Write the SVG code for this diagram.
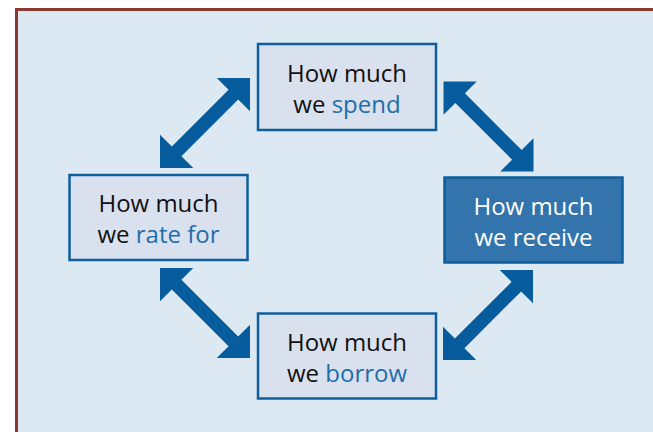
<svg xmlns="http://www.w3.org/2000/svg" width="653" height="432" viewBox="0 0 653 432">
<defs>
<style>
.box{fill:#d9e0ee;stroke:#0e5e9c;stroke-width:2.5}
.box.dark{fill:#3474ad}
.t{font-family:"Open Sans","Liberation Sans",sans-serif;font-size:24px;text-anchor:middle;fill:#111}
.t.w{fill:#fff}
.hl{fill:#1f6ea8}
.arr{fill:#065c9c}
</style>
<path id="dbl" d="M0,0 L23.5,-23.5 L23.5,-6.8 L103.8,-6.8 L103.8,-23.5 L127.3,0 L103.8,23.5 L103.8,6.8 L23.5,6.8 L23.5,23.5 Z"/>
</defs>
<rect x="0" y="0" width="653" height="432" fill="#ffffff"/>
<rect x="16.5" y="9.5" width="700" height="500" fill="#dce9f3" stroke="#8b3a32" stroke-width="3"/>
<g id="connectors" class="arr">
<use href="#dbl" transform="translate(160,168) rotate(-45)"/>
<use href="#dbl" transform="translate(443.5,81.5) rotate(45)"/>
<use href="#dbl" transform="translate(443,360) rotate(-45)"/>
<use href="#dbl" transform="translate(160,268) rotate(45)"/>
</g>
<g id="spend">
<rect class="box" x="258" y="44" width="178" height="86"/>
<text class="t" x="347" y="82">How much</text>
<text class="t" x="347" y="113">we <tspan class="hl">spend</tspan></text>
</g>
<g id="rate">
<rect class="box" x="69.5" y="175" width="178" height="85"/>
<text class="t" x="158.5" y="212">How much</text>
<text class="t" x="158.5" y="243">we <tspan class="hl">rate for</tspan></text>
</g>
<g id="receive">
<rect class="box dark" x="444.5" y="177.5" width="178" height="85"/>
<text class="t w" x="533.5" y="215">How much</text>
<text class="t w" x="533.5" y="246">we receive</text>
</g>
<g id="borrow">
<rect class="box" x="258" y="313.5" width="178" height="85"/>
<text class="t" x="347" y="351">How much</text>
<text class="t" x="347" y="382">we <tspan class="hl">borrow</tspan></text>
</g>
</svg>
